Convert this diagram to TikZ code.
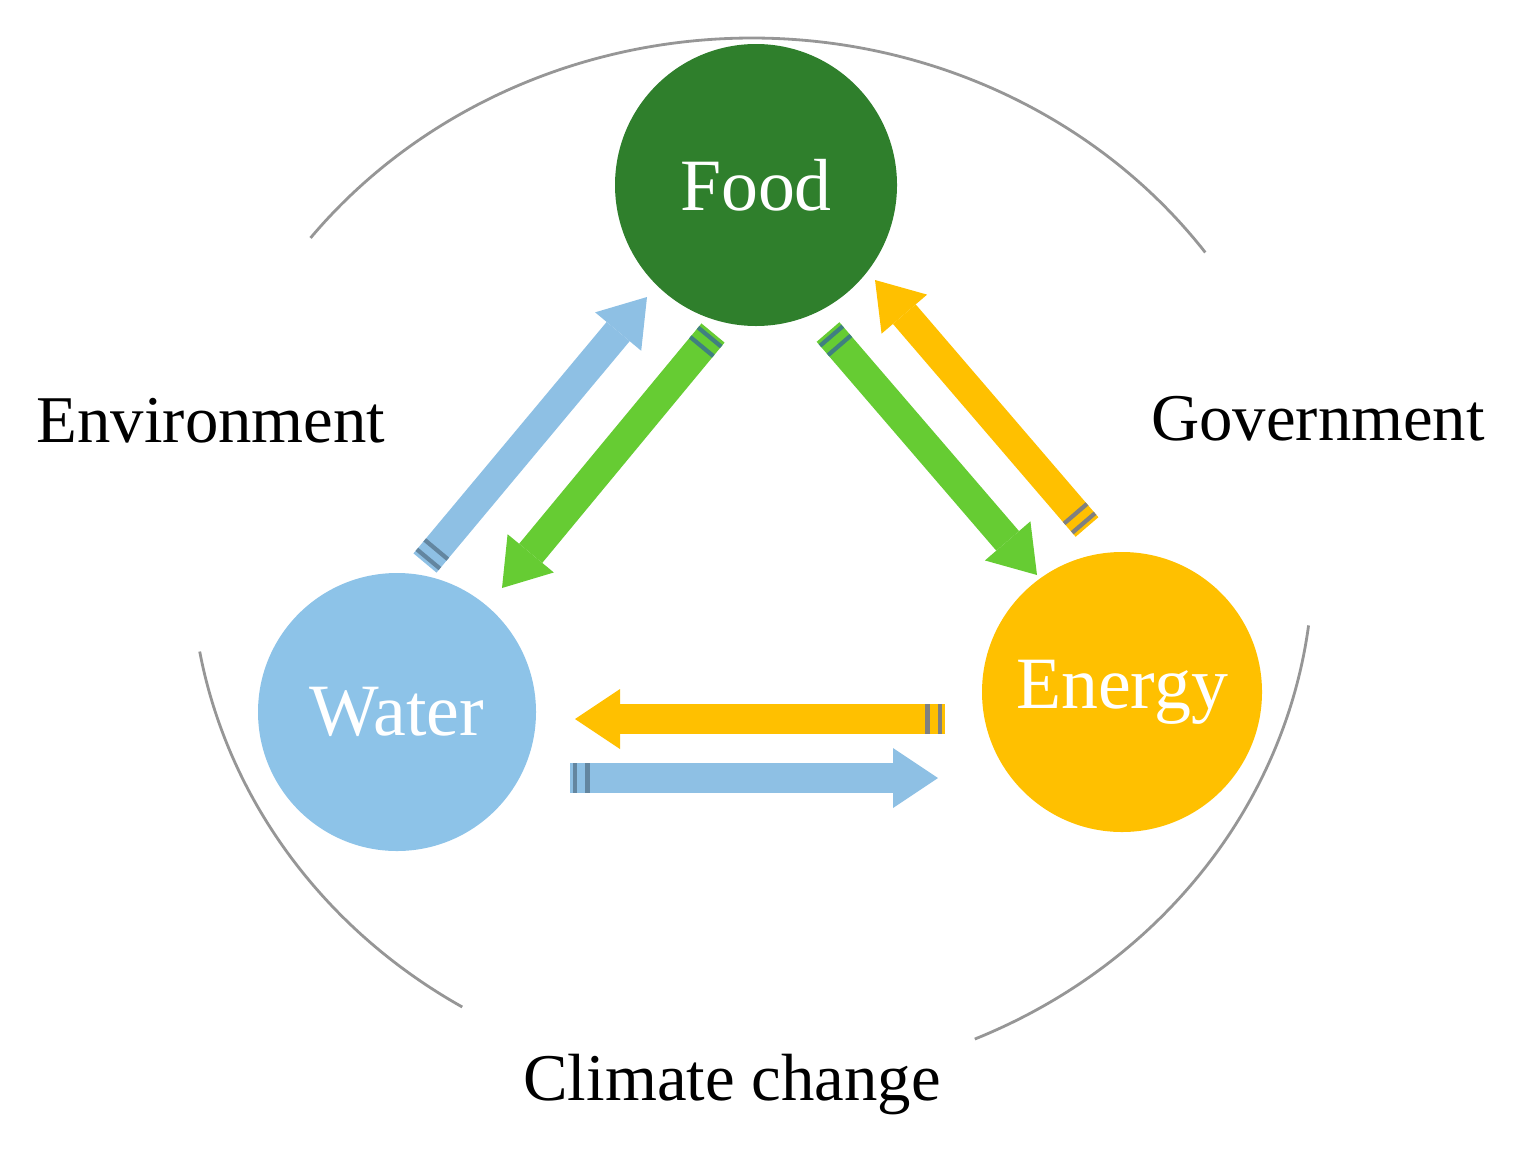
\documentclass[tikz,border=0pt]{standalone}
\usepackage{fontspec}
\setmainfont{Liberation Serif}
\usepackage{tikz}
\usetikzlibrary{
  calc,
  positioning,
  arrows.meta,
  decorations.markings
}
\definecolor{foodgreen}{RGB}{47,127,44}
\definecolor{waterblue}{RGB}{141,195,232}
\definecolor{energygold}{RGB}{255,192,0}
\definecolor{flowblue}{RGB}{142,192,228}
\definecolor{flowgreen}{RGB}{102,204,51}
\definecolor{flowgold}{RGB}{255,192,0}
\definecolor{ringgray}{RGB}{150,150,150}
\tikzset{
  nexus/.style={circle, inner sep=0pt, minimum size=2.8cm, text=white,
    font=\fontsize{21}{25}\selectfont},
  flow/.style={line width=0.3cm,
    -{Triangle[width=0.6cm,length=0.45cm,line width=0pt]}},
  tailmark/.style={postaction={decorate, decoration={markings,
      mark=at position 1.5pt with {\fill[#1] (-0.6pt,-0.15cm) rectangle (0.6pt,0.15cm);},
      mark=at position 5pt with {\fill[#1] (-0.6pt,-0.15cm) rectangle (0.6pt,0.15cm);}}}},
  ring/.style={ringgray, line width=0.8pt},
  outer/.style={font=\fontsize{19}{23}\selectfont, anchor=base}
}

\begin{document}
\begin{tikzpicture}
  \useasboundingbox (0,0) rectangle (15.28,11.62);

  % outer ring, broken round the labels
  \coordinate (hub) at (7.52,6.02);
  \foreach \a/\b in {36.1/141.9, 190.1/238.9, 293.4/352.8}
    \draw[ring] (hub) ++(\a:5.61 and 5.22) arc[start angle=\a, end angle=\b, x radius=5.61, y radius=5.22];

  \node[nexus, fill=foodgreen, minimum size=2.82cm] (food) at (7.56,9.77) {Food};
  \node[nexus, fill=waterblue, minimum size=2.78cm] (water) at (3.97,4.50) {Water};
  \node[nexus, fill=energygold] (energy) at (11.22,4.70) {Energy};

  \node[outer] (env) at (2.11,7.20) {Environment};
  \node[outer] (gov) at (13.18,7.22) {Government};
  \node[outer] (clim) at (7.32,0.62) {Climate change};

  % flow ends
  \coordinate (wf1) at (4.25,5.99);  \coordinate (wf2) at (6.47,8.65);
  \coordinate (fw1) at (7.13,8.29);  \coordinate (fw2) at (5.02,5.74);
  \coordinate (fe1) at (8.28,8.30);  \coordinate (fe2) at (10.37,5.87);
  \coordinate (ef1) at (10.87,6.35); \coordinate (ef2) at (8.75,8.82);
  \coordinate (ew1) at (9.45,4.43);  \coordinate (ew2) at (5.75,4.43);
  \coordinate (we1) at (5.70,3.84);  \coordinate (we2) at (9.38,3.84);

  \draw[flow, flowblue, tailmark=flowblue!70!black] (wf1) -- (wf2);
  \draw[flow, flowgreen, tailmark=teal!50!gray] (fw1) -- (fw2);
  \draw[flow, flowgreen, tailmark=teal!50!gray] (fe1) -- (fe2);
  \draw[flow, flowgold, tailmark=gray] (ef1) -- (ef2);
  \draw[flow, flowgold, tailmark=gray] (ew1) -- (ew2);
  \draw[flow, flowblue, tailmark=flowblue!70!black] (we1) -- (we2);
\end{tikzpicture}
\end{document}
